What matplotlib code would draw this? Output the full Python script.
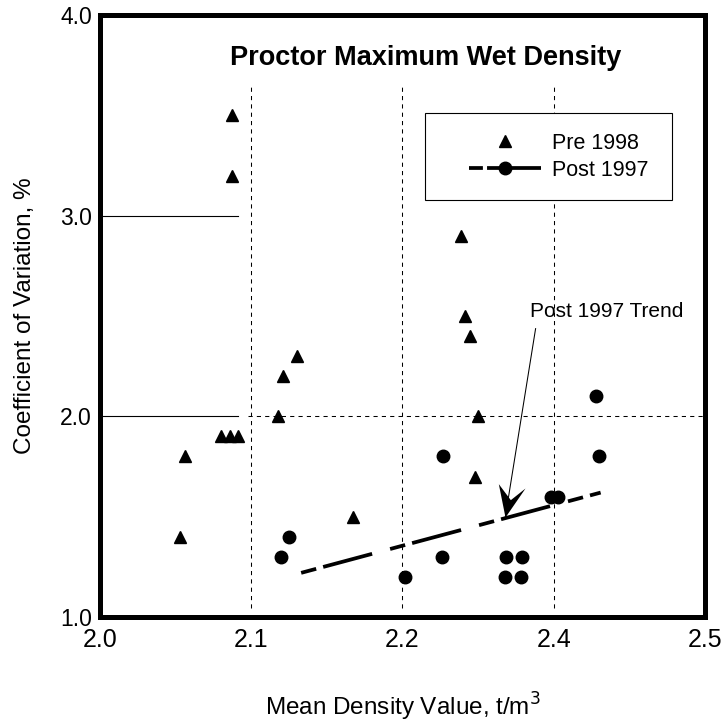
import matplotlib
matplotlib.use('Agg')
from matplotlib import pyplot as plt
from matplotlib.lines import Line2D
from matplotlib.legend_handler import HandlerLine2D
from matplotlib.path import Path

plt.rcParams['font.family'] = ['Liberation Sans', 'DejaVu Sans']
plt.rcParams['lines.scale_dashes'] = False

# Pre 1998 (triangles)
pre_x = [2.053, 2.056, 2.080, 2.086, 2.091, 2.087, 2.087, 2.118, 2.121, 2.130,
         2.167, 2.239, 2.241, 2.2445, 2.250, 2.248]
pre_y = [1.4, 1.8, 1.9, 1.9, 1.9, 3.5, 3.2, 2.0, 2.2, 2.3,
         1.5, 2.9, 2.5, 2.4, 2.0, 1.7]

# Post 1997 (circles)
post_x = [2.1195, 2.125, 2.2015, 2.2264, 2.2268, 2.2676, 2.2683, 2.2786, 2.2793,
          2.298, 2.303, 2.3278, 2.330]
post_y = [1.3, 1.4, 1.2, 1.3, 1.8, 1.2, 1.3, 1.2, 1.3,
          1.6, 1.6, 2.1, 1.8]

# trend line ends
trend_x = [2.133, 2.331]
trend_y = [1.22, 1.62]

# annotation arrow: from below the label to the trend line
arrow_x = [2.288, 2.268]
arrow_y = [2.437, 1.50]

xticks = [2.0, 2.1, 2.2, 2.3, 2.4]
xtick_labels = ['2.0', '2.1', '2.2', '2.4', '2.5']
yticks = [1.0, 2.0, 3.0, 4.0]
ytick_labels = ['1.0', '2.0', '3.0', '4.0']

trend_dashes = (11.2, 5.2, 36.5, 13.4)

# swept-back arrow head, tip at the origin
head = Path([(0, 0), (-0.2, 1.0), (0.16, 0.52), (0.6, 0.87), (0, 0)],
            [Path.MOVETO, Path.LINETO, Path.LINETO, Path.LINETO, Path.CLOSEPOLY])

fig = plt.figure(figsize=(7.26, 7.23), dpi=100)
ax = fig.add_axes([0.13774, 0.14661, 0.83333, 0.83264])
ax.set_xlim(2.0, 2.4)
ax.set_ylim(1.0, 4.0)

# grid bits
for gx in xticks[1:4]:
    ax.plot([gx, gx], [1.045, 3.66], color='black', lw=0.75, dashes=(3, 3), zorder=1)
ax.plot([2.0, 2.0913], [3.0, 3.0], color='black', lw=0.8, zorder=1)
ax.plot([2.0, 2.0913], [2.0, 2.0], color='black', lw=0.8, zorder=1)
ax.plot([2.0979, 2.4], [2.0, 2.0], color='black', lw=0.75, dashes=(3, 3), zorder=1)

ax.plot(pre_x, pre_y, ls='none', marker='^', ms=9, color='black', zorder=3)
ax.plot(post_x, post_y, ls='none', marker='o', ms=9, color='black', zorder=3)
ax.plot(trend_x, trend_y, color='black', lw=2.7, dashes=trend_dashes, zorder=2)

# legend
h_pre = Line2D([], [], ls='none', marker='^', ms=9, color='black')
h_post = Line2D([], [], marker='o', ms=9, color='black', lw=2.7, dashes=(10, 3, 40, 10))
leg = ax.legend([h_pre, h_post], ['Pre 1998', 'Post 1997'],
                loc='upper left', bbox_to_anchor=(0.538, 0.693, 0.408, 0.144),
                mode='expand', borderaxespad=0, borderpad=0.9,
                handlelength=4.48, handletextpad=0.5, labelspacing=0.3,
                fontsize=15.5, fancybox=False, framealpha=1, edgecolor='black',
                handler_map={h_pre: HandlerLine2D(xpad=1.12), h_post: HandlerLine2D(xpad=1.12)})
leg.get_frame().set_linewidth(0.8)

# annotation
ax.text(2.3353, 2.52, 'Post 1997 Trend', ha='center', va='center', fontsize=15)
ax.plot(arrow_x, arrow_y, color='black', lw=0.75, marker=head, ms=48,
        markevery=[1], mew=0, zorder=4)

ax.text(0.539, 0.9286, 'Proctor Maximum Wet Density', transform=ax.transAxes,
        ha='center', va='center', fontsize=19.5, fontweight='bold')

ax.set_xticks(xticks)
ax.set_xticklabels(xtick_labels)
ax.set_yticks(yticks)
ax.set_yticklabels(ytick_labels)
ax.tick_params(axis='x', length=0, pad=8, labelsize=18)
ax.tick_params(axis='y', length=0, pad=5.8, labelsize=16.5)

ax.set_xlabel('Mean Density Value, t/m$^3$', fontsize=17.5, labelpad=28)
ax.set_ylabel('Coefficient of Variation, %', fontsize=17.5, labelpad=17)

for s in ax.spines.values():
    s.set_linewidth(3.6)
    s.set_color('black')

fig.savefig('out.png', dpi=100)
